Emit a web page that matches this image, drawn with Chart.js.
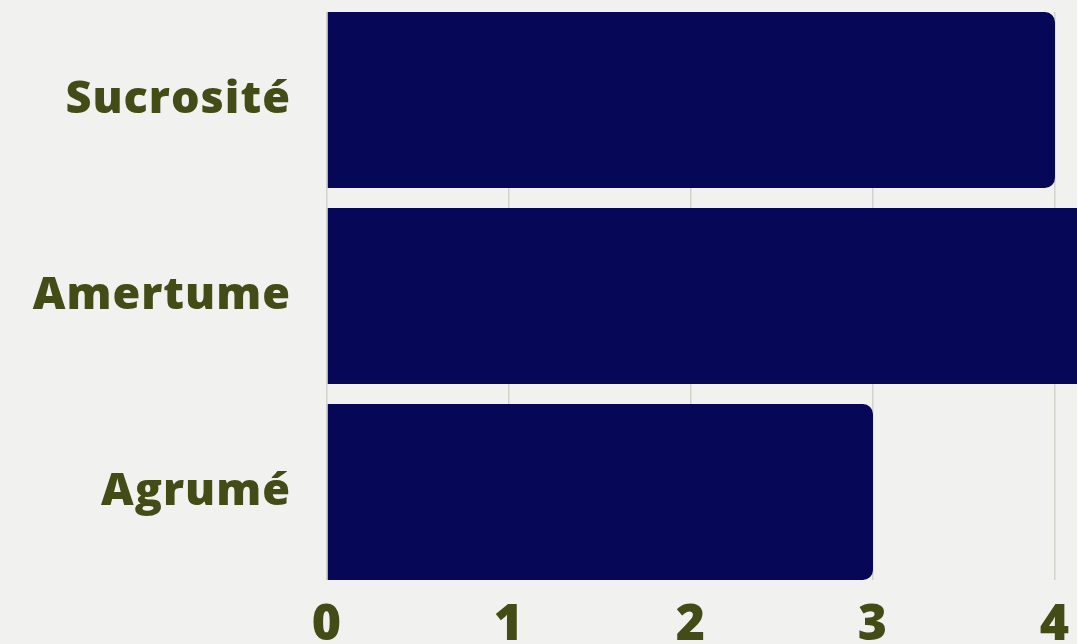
<!DOCTYPE html>
<html>
<head>
<meta charset="utf-8">
<script src="https://cdn.jsdelivr.net/npm/chart.js@4"></script>
<style>
html,body{margin:0;padding:0;background:#f1f1ef;}
#wrap{width:1077px;height:644px;position:relative;}
</style>
</head>
<body>
<div id="wrap"><canvas id="c"></canvas></div>
<script>
const categories = ["Sucrosité", "Amertume", "Agrumé"];
const values = [4, 5, 3];
const xTicks = [0, 1, 2, 3, 4];

const textColor = "#434c16";
const barColor = "#070757";
const fontFamily = "'Open Sans', sans-serif";

const points = values.map((v, i) => ({ x: v, y: i }));

function noPad(axis) {
  axis.paddingTop = 0; axis.paddingBottom = 0;
  axis.paddingLeft = 0; axis.paddingRight = 0;
}

const spacingPlugin = {
  id: "spacing",
  beforeDraw(chart) { chart.ctx.letterSpacing = "1px"; },
  afterDraw(chart) { chart.ctx.letterSpacing = "0px"; }
};

new Chart(document.getElementById("c"), {
  type: "bar",
  data: {
    datasets: [{
      data: points,
      backgroundColor: barColor,
      borderRadius: 10,
      borderSkipped: "start",
      barPercentage: 0.898,
      categoryPercentage: 1
    }]
  },
  plugins: [spacingPlugin],
  options: {
    indexAxis: "y",
    responsive: true,
    maintainAspectRatio: false,
    animation: false,
    layout: { padding: { top: 12, right: 0, bottom: 0, left: 0 } },
    plugins: { legend: { display: false }, tooltip: { enabled: false } },
    scales: {
      y: {
        type: "linear",
        reverse: true,
        offset: false,
        min: -0.449,
        max: 2.449,
        afterBuildTicks: (axis) => { axis.ticks = categories.map((_, i) => ({ value: i })); },
        afterFit: (axis) => { axis.width = 327; noPad(axis); },
        grid: { display: false, drawTicks: false, offset: false },
        border: { display: false },
        ticks: {
          callback: (v) => categories[v] ?? "",
          color: textColor,
          padding: 36,
          font: { family: fontFamily, size: 45, weight: "800" }
        }
      },
      x: {
        type: "linear",
        min: 0,
        max: 4.121,
        afterBuildTicks: (axis) => { axis.ticks = xTicks.map(v => ({ value: v })); },
        afterFit: (axis) => { axis.height = 64; noPad(axis); },
        grid: { color: "#d3d3cb", lineWidth: 1.5, drawTicks: false },
        border: { display: false },
        ticks: {
          color: textColor,
          padding: 16,
          font: { family: fontFamily, size: 50, weight: "800" }
        }
      }
    }
  }
});
</script>
</body>
</html>
